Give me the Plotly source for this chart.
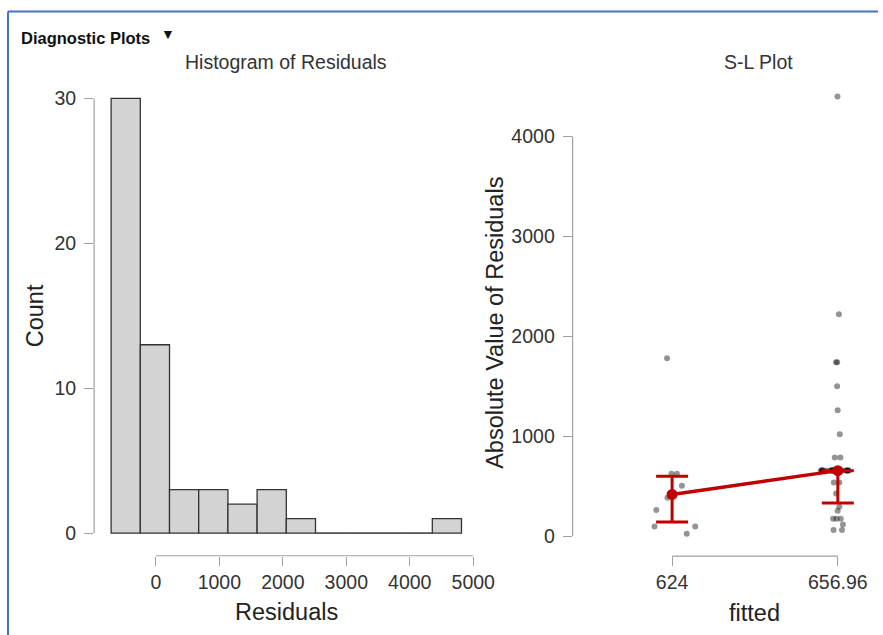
import plotly.graph_objects as go

# target picture size; the page is captured about 1.7% narrower horizontally,
# so the figure itself is made a little wider to fill the shot
W, H = 883, 635
FIG_W = 898
TOP_SHIFT = 2.5  # captured page sits ~2.5px low at the top, nothing at the bottom
FONT = "Liberation Sans, Arial, sans-serif"
RED = "#c00000"
AXIS_GRAY = "#a0a0a0"

# histogram of residuals (bin edges and counts)
bin_edges = [-705, -245, 215, 675, 1135, 1595, 2055, 2515, 2975, 3435, 3895, 4355, 4815]
bin_counts = [30, 13, 3, 3, 2, 3, 1, 0, 0, 0, 0, 1]
hist_xticks = [0, 1000, 2000, 3000, 4000, 5000]
hist_yticks = [0, 10, 20, 30]

# S-L plot: absolute residuals per fitted value
fitted_labels = ["624", "656.96"]
abs_res_624 = [1780, 624, 624, 503, 383, 260, 97, 97, 23]
abs_res_657 = [4400, 2220, 1740, 1740, 1500, 1260, 1020, 787, 787,
               657, 657, 657, 657, 657, 657, 657, 657, 657, 657,
               657, 657, 657, 657, 657, 657, 657, 657, 657, 657,
               657, 657, 657, 657, 657, 657, 657,
               537, 537, 427, 293, 253, 173, 173, 173, 117, 60, 60]
sl_center = [417, 655]
sl_upper = [600, 655]
sl_lower = [140, 332]
sl_yticks = [0, 1000, 2000, 3000, 4000]

# axis ranges
hx_range = [-973, 5115]
hy_range = [-1.56, 30.55]
sx_range = [-0.6, 1.2]
sy_range = [-200, 4460]


def px(x):
    return x / W


def py(y):
    return 1 - (y - TOP_SHIFT * (1 - y / H)) / H


def frac(v, rng):
    return (v - rng[0]) / (rng[1] - rng[0])


fig = go.Figure()

centers = [(a + b) / 2 for a, b in zip(bin_edges[:-1], bin_edges[1:])]
widths = [b - a for a, b in zip(bin_edges[:-1], bin_edges[1:])]
fig.add_trace(go.Bar(
    x=centers, y=bin_counts, width=widths,
    marker=dict(color="#d3d3d3", line=dict(color="#333333", width=1.3)),
    xaxis="x", yaxis="y", showlegend=False,
))
# baseline under empty bins
empty = [i for i, c in enumerate(bin_counts) if c == 0]
fig.add_trace(go.Scatter(
    x=[bin_edges[empty[0]], bin_edges[empty[-1] + 1]], y=[0, 0],
    mode="lines", line=dict(color="#555555", width=1.3),
    xaxis="x", yaxis="y", showlegend=False, hoverinfo="skip",
))

for lab, vals, bw in zip(fitted_labels, [abs_res_624, abs_res_657], [0.36, 0.22]):
    fig.add_trace(go.Box(
        x=[lab] * len(vals), y=vals, boxpoints="all", jitter=1, pointpos=0,
        width=bw, fillcolor="rgba(0,0,0,0)", line=dict(width=0),
        marker=dict(color="rgba(0,0,0,0.42)", size=6),
        xaxis="x2", yaxis="y2", showlegend=False, hoveron="points",
    ))

fig.add_trace(go.Scatter(
    x=fitted_labels, y=sl_center, mode="lines+markers",
    line=dict(color=RED, width=3.5), marker=dict(color=RED, size=11),
    error_y=dict(type="data", symmetric=False,
                 array=[u - c for u, c in zip(sl_upper, sl_center)],
                 arrayminus=[c - l for c, l in zip(sl_center, sl_lower)],
                 width=16, thickness=3, color=RED),
    xaxis="x2", yaxis="y2", showlegend=False,
))

tick_font = dict(family=FONT, size=19.5, color="#333333")
common = dict(showgrid=False, zeroline=False, showline=False, ticks="outside",
              ticklen=9, tickwidth=1, tickcolor=AXIS_GRAY, tickfont=tick_font)

fig.update_layout(
    width=FIG_W, height=H, autosize=False, margin=dict(l=0, r=0, t=0, b=0),
    paper_bgcolor="white", plot_bgcolor="white",
    font=dict(family=FONT, color="#222222"),
    xaxis=dict(domain=[px(94), px(480)], range=hx_range, tickvals=hist_xticks,
               anchor="y", **common),
    yaxis=dict(domain=[py(555.7), py(90)], range=hy_range, tickvals=hist_yticks,
               anchor="x", ticklabelstandoff=4, **common),
    xaxis2=dict(domain=[px(572), px(870)], range=sx_range, type="category",
                categoryarray=fitted_labels, anchor="y2", **common),
    yaxis2=dict(domain=[py(556), py(90)], range=sy_range, tickvals=sl_yticks,
                anchor="x2", ticklabelstandoff=4, **common),
)

# R-style detached axis lines
line = dict(color=AXIS_GRAY, width=1.2)
fig.add_shape(type="line", xref="x domain", yref="y domain",
              x0=frac(hist_xticks[0], hx_range), x1=frac(hist_xticks[-1], hx_range),
              y0=0, y1=0, line=line)
fig.add_shape(type="line", xref="x domain", yref="y domain", x0=0, x1=0,
              y0=frac(hist_yticks[0], hy_range), y1=frac(hist_yticks[-1], hy_range), line=line)
fig.add_shape(type="line", xref="x2 domain", yref="y2 domain",
              x0=frac(0, sx_range), x1=frac(len(fitted_labels) - 1, sx_range),
              y0=0, y1=0, line=line)
fig.add_shape(type="line", xref="x2 domain", yref="y2 domain", x0=0, x1=0,
              y0=frac(sl_yticks[0], sy_range), y1=frac(sl_yticks[-1], sy_range), line=line)

# panel frame (blue border of the results box)
blue = dict(color="#4472c4", width=2)
fig.add_shape(type="line", xref="paper", yref="paper", x0=px(8), x1=px(877), y0=py(11), y1=py(11), line=blue)
fig.add_shape(type="line", xref="paper", yref="paper", x0=px(8), x1=px(8), y0=py(11), y1=0, line=blue)


def label(text, x, y, size, angle=0, color="#222222"):
    fig.add_annotation(text=text, xref="paper", yref="paper", x=px(x), y=py(y),
                       xanchor="center", yanchor="middle", showarrow=False,
                       textangle=angle, font=dict(family=FONT, size=size, color=color))


fig.add_annotation(text="<b>Diagnostic Plots</b>", xref="paper", yref="paper",
                   x=px(19), y=py(38), xanchor="left", yanchor="middle", showarrow=False,
                   font=dict(family=FONT, size=16.5, color="#111111"))
label("▼", 168, 34, 14, color="#111111")
label("Histogram of Residuals", 286, 62, 19.5, color="#333333")
label("S-L Plot", 758, 62, 19.5, color="#333333")
label("Count", 35, 316, 23.5, angle=-90)
label("Residuals", 286, 612, 23.5)
label("Absolute Value of Residuals", 495, 323, 23.5, angle=-90)
label("fitted", 754, 613, 23.5)

fig.write_html(
    "out.html",
    config={"displayModeBar": False, "responsive": False},
    post_script=("document.body.style.margin='0';"
                 "document.body.style.overflow='hidden';"
                 "document.documentElement.style.overflow='hidden';"),
)
